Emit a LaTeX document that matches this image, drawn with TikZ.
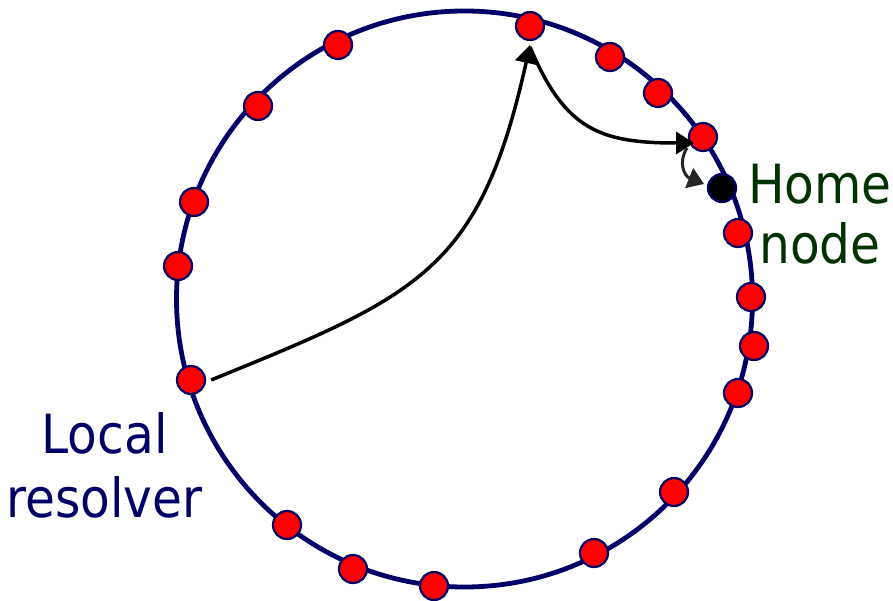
\documentclass[tikz,border=0pt]{standalone}
\usepackage{fontspec}
\setmainfont{DejaVu Sans}[FakeStretch=0.9]
\usetikzlibrary{arrows.meta}
\definecolor{ringblue}{HTML}{000066}
\definecolor{dotred}{HTML}{FF0000}
\definecolor{homegreen}{HTML}{003300}
\tikzset{
  dot/.style={circle, draw=ringblue, fill=dotred, line width=2.2pt, minimum size=28pt, inner sep=0pt},
  homedot/.style={dot, fill=black},
  conn/.style={draw=black, line width=3.5pt, -{Triangle[length=18pt,width=22pt]}},
  thinconn/.style={draw=black!85, line width=3pt, -{Triangle[length=16pt,width=21pt]}},
  lbl/.style={align=center, inner sep=0pt}
}
\begin{document}
\begin{tikzpicture}[x=1pt,y=-1pt]
\useasboundingbox (0,0) rectangle (893,601);
% ring
\draw[ringblue, line width=4.8pt] (464.5,299) circle[radius=288pt];
% dots
\node[dot] (n1) at (530,26) {};
\node[dot] (n2) at (610,57) {};
\node[dot] (n3) at (658,93) {};
\node[dot] (n4) at (703,137) {};
\node[homedot] (home) at (722,188) {};
\node[dot] (n6) at (738,233) {};
\node[dot] (n7) at (751,297) {};
\node[dot] (n8) at (754,346) {};
\node[dot] (n9) at (738,393) {};
\node[dot] (n10) at (674,492) {};
\node[dot] (n11) at (594,553) {};
\node[dot] (n12) at (434,586) {};
\node[dot] (n13) at (353,569) {};
\node[dot] (n14) at (287,525) {};
\node[dot] (res) at (191,380) {};
\node[dot] (n16) at (178,266) {};
\node[dot] (n17) at (194,202) {};
\node[dot] (n18) at (258,106) {};
\node[dot] (n19) at (338,45) {};
% labels
\node[lbl, text=ringblue, font=\fontsize{54}{64}\selectfont] (lres) at (104.5,465) {Local\\resolver};
\node[lbl, text=homegreen, font=\fontsize{54}{60}\selectfont] (lhome) at (820,214) {Home\\node};
% connectors
\coordinate (hop) at ([yshift=-21pt]n1.center);
\draw[conn] ([xshift=5pt]res.east) .. controls (420,295) and (480,270) .. ([yshift=-4pt]n1.south);
\draw[conn] (hop) .. controls (565,130) and (600,143) .. ([shift={(-9pt,-6pt)}]n4.center);
\draw[thinconn] ([shift={(-16pt,-11pt)}]n4.center) .. controls (678,162) and (684,176) .. ([shift={(-18pt,4pt)}]home.center);
\end{tikzpicture}
\end{document}
